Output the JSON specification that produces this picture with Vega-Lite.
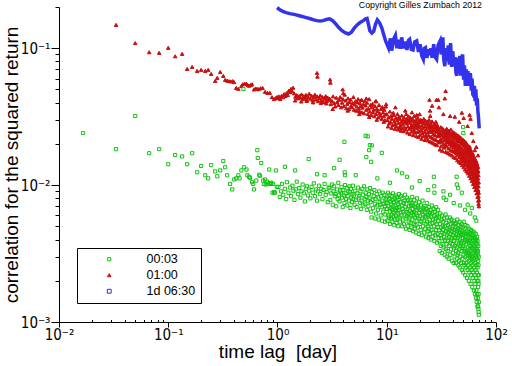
{
"$schema":"https://vega.github.io/schema/vega-lite/v6.json",
"autosize":{"type":"none"},
"padding":{"left":59,"top":7,"right":16,"bottom":44},
"width":437,"height":315,
"background":"white",
"title":{"text":"Copyright Gilles Zumbach 2012","anchor":"end","orient":"top","frame":"group","offset":-16,"baseline":"alphabetic","dx":-14,"fontSize":8.8,"font":"Liberation Sans","fontWeight":"normal","color":"#000"},
"datasets":{
"pts":[
{"s":"01:00","x":0.0333,"y":0.148},{"s":"01:00","x":0.0498,"y":0.109},{"s":"01:00","x":0.0669,"y":0.0935},{"s":"01:00","x":0.0826,"y":0.0925},{"s":"01:00","x":0.1,"y":0.1006},{"s":"01:00","x":0.1157,"y":0.0873},{"s":"01:00","x":0.134,"y":0.0909},{"s":"01:00","x":0.149,"y":0.0706},{"s":"01:00","x":0.1655,"y":0.073},{"s":"01:00","x":0.184,"y":0.0683},{"s":"01:00","x":0.2,"y":0.0695},{"s":"01:00","x":0.218,"y":0.0683},{"s":"01:00","x":0.232,"y":0.0695},{"s":"01:00","x":0.247,"y":0.0649},{"s":"01:00","x":0.269,"y":0.0577},{"s":"01:00","x":0.281,"y":0.0607},{"s":"01:00","x":0.299,"y":0.067},{"s":"01:00","x":0.319,"y":0.0628},{"s":"01:00","x":0.332,"y":0.0587},{"s":"01:00","x":0.346,"y":0.058},{"s":"01:00","x":0.36,"y":0.0575},{"s":"01:00","x":0.374,"y":0.0572},{"s":"01:00","x":0.389,"y":0.0575},{"s":"01:00","x":0.4,"y":0.0565},{"s":"01:00","x":0.419,"y":0.0513},{"s":"01:00","x":0.438,"y":0.0505},{"s":"01:00","x":0.467,"y":0.053},{"s":"01:00","x":0.48,"y":0.0545},{"s":"01:00","x":0.5,"y":0.0552},{"s":"01:00","x":0.52,"y":0.055},{"s":"01:00","x":0.535,"y":0.0538},{"s":"01:00","x":0.55,"y":0.0532},{"s":"01:00","x":0.57,"y":0.054},{"s":"01:00","x":0.585,"y":0.0545},{"s":"01:00","x":0.61,"y":0.05},{"s":"01:00","x":0.63,"y":0.0508},{"s":"01:00","x":0.65,"y":0.0505},{"s":"01:00","x":0.67,"y":0.0502},{"s":"01:00","x":0.7,"y":0.051},{"s":"01:00","x":0.73,"y":0.0513},{"s":"01:00","x":0.77,"y":0.048},{"s":"01:00","x":0.81,"y":0.0472},{"s":"01:00","x":0.85,"y":0.0472},{"s":"01:00","x":0.89,"y":0.0439},{"s":"01:00","x":0.93,"y":0.0425},{"s":"01:00","x":0.96,"y":0.0432},{"s":"01:00","x":0.99,"y":0.044},
{"s":"01:00","x":1.0,"y":0.0432},{"s":"01:00","x":1.03,"y":0.0445},{"s":"01:00","x":1.06,"y":0.0425},{"s":"01:00","x":1.09,"y":0.045},{"s":"01:00","x":1.12,"y":0.0438},{"s":"01:00","x":1.15,"y":0.0462},{"s":"01:00","x":1.18,"y":0.0447},{"s":"01:00","x":1.21,"y":0.047},{"s":"01:00","x":1.24,"y":0.0455},{"s":"01:00","x":1.27,"y":0.049},{"s":"01:00","x":1.3,"y":0.0478},{"s":"01:00","x":1.33,"y":0.0505},{"s":"01:00","x":1.36,"y":0.0485},{"s":"01:00","x":1.39,"y":0.0515},{"s":"01:00","x":1.42,"y":0.0468},{"s":"01:00","x":1.46,"y":0.0442},{"s":"01:00","x":1.5,"y":0.0455},{"s":"01:00","x":1.54,"y":0.043},{"s":"01:00","x":1.58,"y":0.0448},{"s":"01:00","x":1.62,"y":0.0436},{"s":"01:00","x":1.66,"y":0.046},{"s":"01:00","x":1.7,"y":0.0425},{"s":"01:00","x":1.74,"y":0.0447},{"s":"01:00","x":1.78,"y":0.0432},{"s":"01:00","x":1.82,"y":0.0456},{"s":"01:00","x":1.86,"y":0.042},{"s":"01:00","x":1.9,"y":0.0441},{"s":"01:00","x":1.95,"y":0.0465},{"s":"01:00","x":2.0,"y":0.0428},{"s":"01:00","x":2.05,"y":0.045},{"s":"01:00","x":2.1,"y":0.0415},{"s":"01:00","x":2.15,"y":0.0437},{"s":"01:00","x":2.2,"y":0.0458},{"s":"01:00","x":2.25,"y":0.0422},{"s":"01:00","x":2.3,"y":0.0445},{"s":"01:00","x":2.35,"y":0.041},{"s":"01:00","x":2.4,"y":0.0432},{"s":"01:00","x":2.46,"y":0.0452},{"s":"01:00","x":2.52,"y":0.0418},{"s":"01:00","x":2.58,"y":0.044},{"s":"01:00","x":2.64,"y":0.0405},{"s":"01:00","x":2.7,"y":0.0428},{"s":"01:00","x":2.76,"y":0.0447},{"s":"01:00","x":2.82,"y":0.0412},{"s":"01:00","x":2.88,"y":0.0436},{"s":"01:00","x":2.94,"y":0.042},{"s":"01:00","x":1.45,"y":0.0415},{"s":"01:00","x":1.65,"y":0.0408},{"s":"01:00","x":1.85,"y":0.0412},{"s":"01:00","x":2.12,"y":0.0402},{"s":"01:00","x":2.5,"y":0.0398},{"s":"01:00","x":2.8,"y":0.0395},
{"s":"01:00","x":3.0,"y":0.0428},{"s":"01:00","x":3.07,"y":0.039},{"s":"01:00","x":3.15,"y":0.0412},{"s":"01:00","x":3.22,"y":0.0445},{"s":"01:00","x":3.3,"y":0.0398},{"s":"01:00","x":3.37,"y":0.0375},{"s":"01:00","x":3.45,"y":0.0435},{"s":"01:00","x":3.52,"y":0.0405},{"s":"01:00","x":3.6,"y":0.0385},{"s":"01:00","x":3.67,"y":0.042},{"s":"01:00","x":3.75,"y":0.044},{"s":"01:00","x":3.82,"y":0.037},{"s":"01:00","x":3.9,"y":0.04},{"s":"01:00","x":3.97,"y":0.0425},{"s":"01:00","x":4.05,"y":0.0378},{"s":"01:00","x":4.12,"y":0.0458},{"s":"01:00","x":4.2,"y":0.0415},{"s":"01:00","x":4.27,"y":0.0365},{"s":"01:00","x":4.35,"y":0.0392},{"s":"01:00","x":4.42,"y":0.043},{"s":"01:00","x":4.5,"y":0.036},{"s":"01:00","x":4.57,"y":0.0405},{"s":"01:00","x":4.65,"y":0.0422},{"s":"01:00","x":4.72,"y":0.038},{"s":"01:00","x":4.8,"y":0.037},{"s":"01:00","x":4.87,"y":0.0398},{"s":"01:00","x":4.95,"y":0.044},{"s":"01:00","x":5.02,"y":0.0355},{"s":"01:00","x":5.1,"y":0.0388},{"s":"01:00","x":5.17,"y":0.041},{"s":"01:00","x":5.25,"y":0.035},{"s":"01:00","x":5.32,"y":0.0375},{"s":"01:00","x":5.4,"y":0.0402},{"s":"01:00","x":5.47,"y":0.0425},{"s":"01:00","x":5.55,"y":0.0362},{"s":"01:00","x":5.62,"y":0.0345},{"s":"01:00","x":5.7,"y":0.0395},{"s":"01:00","x":5.77,"y":0.0378},{"s":"01:00","x":5.85,"y":0.0418},{"s":"01:00","x":5.92,"y":0.034},{"s":"01:00","x":6.0,"y":0.0368},{"s":"01:00","x":6.1,"y":0.039},{"s":"01:00","x":6.2,"y":0.0335},{"s":"01:00","x":6.3,"y":0.041},{"s":"01:00","x":6.4,"y":0.0382},{"s":"01:00","x":6.5,"y":0.0355},{"s":"01:00","x":6.6,"y":0.04},{"s":"01:00","x":6.7,"y":0.033},{"s":"01:00","x":6.8,"y":0.0362},{"s":"01:00","x":6.9,"y":0.0425},{"s":"01:00","x":7.0,"y":0.0345},{"s":"01:00","x":7.1,"y":0.0385},{"s":"01:00","x":7.2,"y":0.0325},{"s":"01:00","x":7.3,"y":0.037},{"s":"01:00","x":7.4,"y":0.0392},{"s":"01:00","x":7.5,"y":0.034},{"s":"01:00","x":7.6,"y":0.0355},{"s":"01:00","x":7.7,"y":0.0318},{"s":"01:00","x":7.8,"y":0.0378},{"s":"01:00","x":7.9,"y":0.041},{"s":"01:00","x":8.0,"y":0.033},{"s":"01:00","x":8.12,"y":0.0362},{"s":"01:00","x":8.25,"y":0.0348},{"s":"01:00","x":8.37,"y":0.0312},{"s":"01:00","x":8.5,"y":0.0385},{"s":"01:00","x":8.62,"y":0.0335},{"s":"01:00","x":8.75,"y":0.0322},{"s":"01:00","x":8.87,"y":0.036},{"s":"01:00","x":9.0,"y":0.0305},{"s":"01:00","x":9.12,"y":0.0372},{"s":"01:00","x":9.25,"y":0.034},{"s":"01:00","x":9.37,"y":0.0318},{"s":"01:00","x":9.5,"y":0.0355},{"s":"01:00","x":9.62,"y":0.0298},{"s":"01:00","x":9.75,"y":0.0328},{"s":"01:00","x":9.87,"y":0.039},{"s":"01:00","x":3.2,"y":0.036},{"s":"01:00","x":4.4,"y":0.035},{"s":"01:00","x":5.6,"y":0.033},{"s":"01:00","x":6.9,"y":0.0315},{"s":"01:00","x":8.1,"y":0.03},{"s":"01:00","x":9.4,"y":0.029},
{"s":"01:00","x":10.0,"y":0.033},{"s":"01:00","x":10.13,"y":0.0298},{"s":"01:00","x":10.27,"y":0.0268},{"s":"01:00","x":10.4,"y":0.0312},{"s":"01:00","x":10.53,"y":0.0282},{"s":"01:00","x":10.67,"y":0.0345},{"s":"01:00","x":10.8,"y":0.029},{"s":"01:00","x":10.93,"y":0.032},{"s":"01:00","x":11.07,"y":0.0262},{"s":"01:00","x":11.2,"y":0.0305},{"s":"01:00","x":11.33,"y":0.0275},{"s":"01:00","x":11.47,"y":0.0338},{"s":"01:00","x":11.6,"y":0.0325},{"s":"01:00","x":11.73,"y":0.0292},{"s":"01:00","x":11.87,"y":0.0258},{"s":"01:00","x":12.0,"y":0.028},{"s":"01:00","x":12.13,"y":0.031},{"s":"01:00","x":12.27,"y":0.0268},{"s":"01:00","x":12.4,"y":0.0298},{"s":"01:00","x":12.53,"y":0.033},{"s":"01:00","x":12.67,"y":0.0255},{"s":"01:00","x":12.8,"y":0.0285},{"s":"01:00","x":12.93,"y":0.0315},{"s":"01:00","x":13.07,"y":0.0263},{"s":"01:00","x":13.2,"y":0.0305},{"s":"01:00","x":13.33,"y":0.0272},{"s":"01:00","x":13.47,"y":0.025},{"s":"01:00","x":13.6,"y":0.029},{"s":"01:00","x":13.73,"y":0.0322},{"s":"01:00","x":13.87,"y":0.026},{"s":"01:00","x":14.0,"y":0.0278},{"s":"01:00","x":14.13,"y":0.03},{"s":"01:00","x":14.27,"y":0.0248},{"s":"01:00","x":14.4,"y":0.0312},{"s":"01:00","x":14.53,"y":0.0265},{"s":"01:00","x":14.67,"y":0.0288},{"s":"01:00","x":14.8,"y":0.0295},{"s":"01:00","x":14.93,"y":0.0255},{"s":"01:00","x":15.07,"y":0.033},{"s":"01:00","x":15.2,"y":0.0282},{"s":"01:00","x":15.33,"y":0.0305},{"s":"01:00","x":15.47,"y":0.0242},{"s":"01:00","x":15.6,"y":0.0268},{"s":"01:00","x":15.73,"y":0.0292},{"s":"01:00","x":15.87,"y":0.0318},{"s":"01:00","x":16.0,"y":0.03},{"s":"01:00","x":16.13,"y":0.0258},{"s":"01:00","x":16.27,"y":0.0236},{"s":"01:00","x":16.4,"y":0.0285},{"s":"01:00","x":16.53,"y":0.031},{"s":"01:00","x":16.67,"y":0.0262},{"s":"01:00","x":16.8,"y":0.0272},{"s":"01:00","x":16.93,"y":0.0246},{"s":"01:00","x":17.07,"y":0.0296},{"s":"01:00","x":17.2,"y":0.0305},{"s":"01:00","x":17.33,"y":0.0265},{"s":"01:00","x":17.47,"y":0.0232},{"s":"01:00","x":17.6,"y":0.028},{"s":"01:00","x":17.73,"y":0.0252},{"s":"01:00","x":17.87,"y":0.032},{"s":"01:00","x":18.0,"y":0.0292},{"s":"01:00","x":18.13,"y":0.0242},{"s":"01:00","x":18.27,"y":0.0268},{"s":"01:00","x":18.4,"y":0.0275},{"s":"01:00","x":18.53,"y":0.03},{"s":"01:00","x":18.67,"y":0.0228},{"s":"01:00","x":18.8,"y":0.026},{"s":"01:00","x":18.93,"y":0.0285},{"s":"01:00","x":19.07,"y":0.0244},{"s":"01:00","x":19.2,"y":0.031},{"s":"01:00","x":19.33,"y":0.027},{"s":"01:00","x":19.47,"y":0.0225},{"s":"01:00","x":19.6,"y":0.0278},{"s":"01:00","x":19.73,"y":0.0248},{"s":"01:00","x":19.87,"y":0.0295},{"s":"01:00","x":20.0,"y":0.0265},{"s":"01:00","x":20.17,"y":0.0232},{"s":"01:00","x":20.33,"y":0.0288},{"s":"01:00","x":20.5,"y":0.03},{"s":"01:00","x":20.67,"y":0.0252},{"s":"01:00","x":20.83,"y":0.0218},{"s":"01:00","x":21.0,"y":0.0272},{"s":"01:00","x":21.17,"y":0.024},{"s":"01:00","x":21.33,"y":0.029},{"s":"01:00","x":21.5,"y":0.026},{"s":"01:00","x":21.67,"y":0.0228},{"s":"01:00","x":21.83,"y":0.0305},{"s":"01:00","x":22.0,"y":0.0282},{"s":"01:00","x":22.17,"y":0.0245},{"s":"01:00","x":22.33,"y":0.0214},{"s":"01:00","x":22.5,"y":0.0268},{"s":"01:00","x":22.67,"y":0.0295},{"s":"01:00","x":22.83,"y":0.0232},{"s":"01:00","x":23.0,"y":0.0255},{"s":"01:00","x":23.17,"y":0.0222},{"s":"01:00","x":23.33,"y":0.0278},{"s":"01:00","x":23.5,"y":0.029},{"s":"01:00","x":23.67,"y":0.0242},{"s":"01:00","x":23.83,"y":0.0212},{"s":"01:00","x":24.0,"y":0.0265},{"s":"01:00","x":24.17,"y":0.023},{"s":"01:00","x":24.33,"y":0.03},{"s":"01:00","x":24.5,"y":0.0275},{"s":"01:00","x":24.67,"y":0.0248},{"s":"01:00","x":24.83,"y":0.0208},{"s":"01:00","x":25.0,"y":0.026},{"s":"01:00","x":25.17,"y":0.0285},{"s":"01:00","x":25.33,"y":0.0225},{"s":"01:00","x":25.5,"y":0.0245},{"s":"01:00","x":25.67,"y":0.027},{"s":"01:00","x":25.83,"y":0.0205},{"s":"01:00","x":26.0,"y":0.0292},{"s":"01:00","x":26.17,"y":0.0252},{"s":"01:00","x":26.33,"y":0.022},{"s":"01:00","x":26.5,"y":0.0265},{"s":"01:00","x":26.67,"y":0.0236},{"s":"01:00","x":26.83,"y":0.0202},{"s":"01:00","x":27.0,"y":0.025},{"s":"01:00","x":27.17,"y":0.028},{"s":"01:00","x":27.33,"y":0.0216},{"s":"01:00","x":27.5,"y":0.027},{"s":"01:00","x":27.67,"y":0.0232},{"s":"01:00","x":27.83,"y":0.0198},{"s":"01:00","x":28.0,"y":0.0258},{"s":"01:00","x":28.17,"y":0.029},{"s":"01:00","x":28.33,"y":0.0214},{"s":"01:00","x":28.5,"y":0.0245},{"s":"01:00","x":28.67,"y":0.0268},{"s":"01:00","x":28.83,"y":0.0196},{"s":"01:00","x":29.0,"y":0.0275},{"s":"01:00","x":29.17,"y":0.0228},{"s":"01:00","x":29.33,"y":0.025},{"s":"01:00","x":29.5,"y":0.026},{"s":"01:00","x":29.67,"y":0.0208},{"s":"01:00","x":29.83,"y":0.0236},
{"s":"01:00","x":30.0,"y":0.0255},{"s":"01:00","x":30.2,"y":0.0228},{"s":"01:00","x":30.4,"y":0.0205},{"s":"01:00","x":30.6,"y":0.0182},{"s":"01:00","x":30.8,"y":0.024},{"s":"01:00","x":31.0,"y":0.0215},{"s":"01:00","x":31.2,"y":0.0265},{"s":"01:00","x":31.4,"y":0.0192},{"s":"01:00","x":31.6,"y":0.0232},{"s":"01:00","x":31.8,"y":0.0208},{"s":"01:00","x":32.0,"y":0.025},{"s":"01:00","x":32.2,"y":0.0178},{"s":"01:00","x":32.4,"y":0.026},{"s":"01:00","x":32.6,"y":0.0222},{"s":"01:00","x":32.8,"y":0.0198},{"s":"01:00","x":33.0,"y":0.024},{"s":"01:00","x":33.2,"y":0.0245},{"s":"01:00","x":33.4,"y":0.0212},{"s":"01:00","x":33.6,"y":0.0188},{"s":"01:00","x":33.8,"y":0.023},{"s":"01:00","x":34.0,"y":0.0228},{"s":"01:00","x":34.2,"y":0.0252},{"s":"01:00","x":34.4,"y":0.02},{"s":"01:00","x":34.6,"y":0.0175},{"s":"01:00","x":34.8,"y":0.0238},{"s":"01:00","x":35.0,"y":0.0215},{"s":"01:00","x":35.2,"y":0.0192},{"s":"01:00","x":35.4,"y":0.0258},{"s":"01:00","x":35.6,"y":0.0225},{"s":"01:00","x":35.8,"y":0.0205},{"s":"01:00","x":36.0,"y":0.0245},{"s":"01:00","x":36.2,"y":0.0172},{"s":"01:00","x":36.4,"y":0.0235},{"s":"01:00","x":36.6,"y":0.021},{"s":"01:00","x":36.8,"y":0.0185},{"s":"01:00","x":37.0,"y":0.025},{"s":"01:00","x":37.2,"y":0.022},{"s":"01:00","x":37.4,"y":0.0242},{"s":"01:00","x":37.6,"y":0.0198},{"s":"01:00","x":37.8,"y":0.0168},{"s":"01:00","x":38.0,"y":0.0232},{"s":"01:00","x":38.2,"y":0.0205},{"s":"01:00","x":38.4,"y":0.018},{"s":"01:00","x":38.6,"y":0.0255},{"s":"01:00","x":38.8,"y":0.0215},{"s":"01:00","x":39.0,"y":0.0238},{"s":"01:00","x":39.2,"y":0.0192},{"s":"01:00","x":39.4,"y":0.0165},{"s":"01:00","x":39.6,"y":0.0228},{"s":"01:00","x":39.8,"y":0.02},{"s":"01:00","x":40.0,"y":0.0178},{"s":"01:00","x":40.2,"y":0.0245},{"s":"01:00","x":40.4,"y":0.021},{"s":"01:00","x":40.6,"y":0.0232},{"s":"01:00","x":40.8,"y":0.0188},{"s":"01:00","x":41.0,"y":0.016},{"s":"01:00","x":41.2,"y":0.0222},{"s":"01:00","x":41.4,"y":0.0195},{"s":"01:00","x":41.6,"y":0.0175},{"s":"01:00","x":41.8,"y":0.024},{"s":"01:00","x":42.0,"y":0.0205},{"s":"01:00","x":42.2,"y":0.0228},{"s":"01:00","x":42.4,"y":0.0182},{"s":"01:00","x":42.6,"y":0.0158},{"s":"01:00","x":42.8,"y":0.0218},{"s":"01:00","x":43.0,"y":0.019},{"s":"01:00","x":43.2,"y":0.017},{"s":"01:00","x":43.4,"y":0.0235},{"s":"01:00","x":43.6,"y":0.02},{"s":"01:00","x":43.8,"y":0.0222},{"s":"01:00","x":44.0,"y":0.0178},{"s":"01:00","x":44.2,"y":0.0152},{"s":"01:00","x":44.4,"y":0.0212},{"s":"01:00","x":44.6,"y":0.0186},{"s":"01:00","x":44.8,"y":0.0165},{"s":"01:00","x":45.0,"y":0.023},{"s":"01:00","x":45.2,"y":0.0195},{"s":"01:00","x":45.4,"y":0.0218},{"s":"01:00","x":45.6,"y":0.0172},{"s":"01:00","x":45.8,"y":0.0148},{"s":"01:00","x":46.0,"y":0.0208},{"s":"01:00","x":46.2,"y":0.018},{"s":"01:00","x":46.4,"y":0.016},{"s":"01:00","x":46.6,"y":0.0225},{"s":"01:00","x":46.8,"y":0.019},{"s":"01:00","x":47.0,"y":0.0212},{"s":"01:00","x":47.2,"y":0.0168},{"s":"01:00","x":47.4,"y":0.0145},{"s":"01:00","x":47.6,"y":0.0202},{"s":"01:00","x":47.8,"y":0.0175},{"s":"01:00","x":48.0,"y":0.0155},{"s":"01:00","x":48.2,"y":0.022},{"s":"01:00","x":48.4,"y":0.0185},{"s":"01:00","x":48.6,"y":0.0208},{"s":"01:00","x":48.8,"y":0.0162},{"s":"01:00","x":49.0,"y":0.014},{"s":"01:00","x":49.2,"y":0.0198},{"s":"01:00","x":49.4,"y":0.017},{"s":"01:00","x":49.6,"y":0.015},{"s":"01:00","x":49.8,"y":0.0215},{"s":"01:00","x":50.0,"y":0.018},{"s":"01:00","x":50.2,"y":0.0202},{"s":"01:00","x":50.4,"y":0.0158},{"s":"01:00","x":50.6,"y":0.0135},{"s":"01:00","x":50.8,"y":0.0192},{"s":"01:00","x":51.0,"y":0.0165},{"s":"01:00","x":51.2,"y":0.0145},{"s":"01:00","x":51.4,"y":0.021},{"s":"01:00","x":51.6,"y":0.0175},{"s":"01:00","x":51.8,"y":0.0196},{"s":"01:00","x":52.0,"y":0.0152},{"s":"01:00","x":52.2,"y":0.013},{"s":"01:00","x":52.4,"y":0.0186},{"s":"01:00","x":52.6,"y":0.016},{"s":"01:00","x":52.8,"y":0.014},{"s":"01:00","x":53.0,"y":0.0205},{"s":"01:00","x":53.2,"y":0.017},{"s":"01:00","x":53.4,"y":0.019},{"s":"01:00","x":53.6,"y":0.0148},{"s":"01:00","x":53.8,"y":0.0126},{"s":"01:00","x":54.0,"y":0.018},{"s":"01:00","x":54.2,"y":0.0155},{"s":"01:00","x":54.4,"y":0.0135},{"s":"01:00","x":54.6,"y":0.0198},{"s":"01:00","x":54.8,"y":0.0165},{"s":"01:00","x":55.0,"y":0.0184},{"s":"01:00","x":55.2,"y":0.0142},{"s":"01:00","x":55.4,"y":0.0122},{"s":"01:00","x":55.6,"y":0.0174},{"s":"01:00","x":55.8,"y":0.015},{"s":"01:00","x":56.0,"y":0.013},{"s":"01:00","x":56.2,"y":0.0192},{"s":"01:00","x":56.4,"y":0.016},{"s":"01:00","x":56.6,"y":0.0178},{"s":"01:00","x":56.8,"y":0.0137},{"s":"01:00","x":57.0,"y":0.0117},{"s":"01:00","x":57.2,"y":0.0168},{"s":"01:00","x":57.4,"y":0.0145},{"s":"01:00","x":57.6,"y":0.0125},{"s":"01:00","x":57.8,"y":0.0185},{"s":"01:00","x":58.0,"y":0.0154},{"s":"01:00","x":58.2,"y":0.0172},{"s":"01:00","x":58.4,"y":0.0132},{"s":"01:00","x":58.6,"y":0.0112},{"s":"01:00","x":58.8,"y":0.0162},{"s":"01:00","x":59.0,"y":0.014},{"s":"01:00","x":59.2,"y":0.012},{"s":"01:00","x":59.4,"y":0.0178},{"s":"01:00","x":59.6,"y":0.0148},{"s":"01:00","x":59.8,"y":0.0166},{"s":"01:00","x":60.0,"y":0.0126},{"s":"01:00","x":60.2,"y":0.0107},{"s":"01:00","x":60.4,"y":0.0156},{"s":"01:00","x":60.6,"y":0.0134},{"s":"01:00","x":60.8,"y":0.0114},{"s":"01:00","x":61.0,"y":0.017},{"s":"01:00","x":61.2,"y":0.0142},{"s":"01:00","x":61.4,"y":0.016},{"s":"01:00","x":61.6,"y":0.012},{"s":"01:00","x":61.8,"y":0.0102},{"s":"01:00","x":62.0,"y":0.015},{"s":"01:00","x":62.2,"y":0.0128},{"s":"01:00","x":62.4,"y":0.0109},{"s":"01:00","x":62.6,"y":0.0163},{"s":"01:00","x":62.8,"y":0.0136},{"s":"01:00","x":63.0,"y":0.0153},{"s":"01:00","x":63.2,"y":0.0115},{"s":"01:00","x":63.4,"y":0.0097},{"s":"01:00","x":63.6,"y":0.0144},{"s":"01:00","x":63.8,"y":0.0122},{"s":"01:00","x":64.0,"y":0.0104},{"s":"01:00","x":64.2,"y":0.0156},{"s":"01:00","x":64.4,"y":0.013},{"s":"01:00","x":64.6,"y":0.0147},{"s":"01:00","x":64.8,"y":0.011},{"s":"01:00","x":65.0,"y":0.0092},{"s":"01:00","x":65.2,"y":0.0138},{"s":"01:00","x":65.4,"y":0.0116},{"s":"01:00","x":65.6,"y":0.0099},{"s":"01:00","x":65.8,"y":0.015},{"s":"01:00","x":66.0,"y":0.0124},{"s":"01:00","x":66.17,"y":0.014},{"s":"01:00","x":66.35,"y":0.0104},{"s":"01:00","x":66.52,"y":0.0087},{"s":"01:00","x":66.7,"y":0.0132},{"s":"01:00","x":66.87,"y":0.011},{"s":"01:00","x":67.05,"y":0.0093},{"s":"01:00","x":67.22,"y":0.0143},{"s":"01:00","x":67.4,"y":0.0118},{"s":"01:00","x":67.55,"y":0.0134},{"s":"01:00","x":67.7,"y":0.0098},{"s":"01:00","x":67.85,"y":0.0082},{"s":"01:00","x":68.0,"y":0.0125},{"s":"01:00","x":68.12,"y":0.0104},{"s":"01:00","x":68.25,"y":0.0088},{"s":"01:00","x":68.37,"y":0.0136},{"s":"01:00","x":68.5,"y":0.0112},{"s":"01:00","x":68.62,"y":0.0127},{"s":"01:00","x":68.75,"y":0.0092},{"s":"01:00","x":68.87,"y":0.0077},{"s":"01:00","x":69.0,"y":0.0118},{"s":"01:00","x":69.1,"y":0.0098},{"s":"01:00","x":69.2,"y":0.0083},{"s":"01:00","x":69.3,"y":0.0073},{"s":"01:00","x":69.4,"y":0.0105},{"s":"01:00","x":69.5,"y":0.0088},{"s":"01:00","x":69.6,"y":0.0078},{"s":"01:00","x":69.7,"y":0.007},
{"s":"01:00","x":2.3,"y":0.066},{"s":"01:00","x":2.32,"y":0.062},{"s":"01:00","x":3.03,"y":0.059},{"s":"01:00","x":3.05,"y":0.056},{"s":"01:00","x":3.95,"y":0.05},{"s":"01:00","x":4.0,"y":0.047},{"s":"01:00","x":5.9,"y":0.042},{"s":"01:00","x":6.5,"y":0.043},{"s":"01:00","x":8.0,"y":0.041},{"s":"01:00","x":9.8,"y":0.0375},{"s":"01:00","x":12.0,"y":0.037},{"s":"01:00","x":14.8,"y":0.035},{"s":"01:00","x":17.0,"y":0.034},{"s":"01:00","x":18.8,"y":0.0326},{"s":"01:00","x":20.0,"y":0.033},{"s":"01:00","x":24.6,"y":0.042},{"s":"01:00","x":24.9,"y":0.035},{"s":"01:00","x":25.0,"y":0.032},{"s":"01:00","x":26.0,"y":0.038},{"s":"01:00","x":28.5,"y":0.042},{"s":"01:00","x":29.6,"y":0.042},{"s":"01:00","x":30.0,"y":0.037},{"s":"01:00","x":33.0,"y":0.033},{"s":"01:00","x":34.0,"y":0.043},{"s":"01:00","x":34.6,"y":0.0486},{"s":"01:00","x":38.0,"y":0.032},{"s":"01:00","x":42.0,"y":0.0316},{"s":"01:00","x":46.0,"y":0.029},{"s":"01:00","x":48.7,"y":0.0338},{"s":"01:00","x":50.6,"y":0.0309},{"s":"01:00","x":55.0,"y":0.027},{"s":"01:00","x":57.3,"y":0.0326},{"s":"01:00","x":57.4,"y":0.0191},{"s":"01:00","x":58.5,"y":0.0305},{"s":"01:00","x":60.0,"y":0.024},{"s":"01:00","x":62.0,"y":0.021},{"s":"01:00","x":64.0,"y":0.018},{"s":"01:00","x":66.0,"y":0.019},{"s":"01:00","x":68.5,"y":0.0165},
{"s":"00:03","x":0.0166,"y":0.024},{"s":"00:03","x":0.0333,"y":0.0183},{"s":"00:03","x":0.0498,"y":0.032},{"s":"00:03","x":0.0669,"y":0.0171},{"s":"00:03","x":0.0826,"y":0.0183},{"s":"00:03","x":0.1,"y":0.0142},{"s":"00:03","x":0.1157,"y":0.0166},{"s":"00:03","x":0.134,"y":0.0162},{"s":"00:03","x":0.149,"y":0.0142},{"s":"00:03","x":0.1655,"y":0.0171},{"s":"00:03","x":0.184,"y":0.0124},{"s":"00:03","x":0.2,"y":0.0138},{"s":"00:03","x":0.218,"y":0.0118},{"s":"00:03","x":0.232,"y":0.0112},{"s":"00:03","x":0.247,"y":0.014},{"s":"00:03","x":0.269,"y":0.0126},{"s":"00:03","x":0.281,"y":0.0116},{"s":"00:03","x":0.299,"y":0.0128},{"s":"00:03","x":0.319,"y":0.015},{"s":"00:03","x":0.332,"y":0.0135},{"s":"00:03","x":0.346,"y":0.0118},{"s":"00:03","x":0.368,"y":0.0102},{"s":"00:03","x":0.385,"y":0.0093},{"s":"00:03","x":0.402,"y":0.011},{"s":"00:03","x":0.419,"y":0.0112},{"s":"00:03","x":0.438,"y":0.0118},{"s":"00:03","x":0.45,"y":0.0112},{"s":"00:03","x":0.467,"y":0.0128},{"s":"00:03","x":0.488,"y":0.0504},{"s":"00:03","x":0.495,"y":0.0135},{"s":"00:03","x":0.52,"y":0.013},{"s":"00:03","x":0.53,"y":0.0118},{"s":"00:03","x":0.55,"y":0.0115},{"s":"00:03","x":0.56,"y":0.0113},{"s":"00:03","x":0.585,"y":0.0105},{"s":"00:03","x":0.6,"y":0.0102},{"s":"00:03","x":0.61,"y":0.0093},{"s":"00:03","x":0.64,"y":0.0108},{"s":"00:03","x":0.653,"y":0.018},{"s":"00:03","x":0.66,"y":0.0158},{"s":"00:03","x":0.68,"y":0.0119},{"s":"00:03","x":0.69,"y":0.0117},{"s":"00:03","x":0.71,"y":0.0145},{"s":"00:03","x":0.74,"y":0.0108},{"s":"00:03","x":0.75,"y":0.0102},{"s":"00:03","x":0.77,"y":0.011},{"s":"00:03","x":0.78,"y":0.0101},{"s":"00:03","x":0.8,"y":0.0106},{"s":"00:03","x":0.82,"y":0.0102},{"s":"00:03","x":0.84,"y":0.013},{"s":"00:03","x":0.85,"y":0.0103},{"s":"00:03","x":0.87,"y":0.0102},{"s":"00:03","x":0.88,"y":0.0104},{"s":"00:03","x":0.9,"y":0.0088},{"s":"00:03","x":0.91,"y":0.0102},{"s":"00:03","x":0.93,"y":0.0089},{"s":"00:03","x":0.95,"y":0.0088},{"s":"00:03","x":0.97,"y":0.0128},{"s":"00:03","x":0.985,"y":0.0097},
{"s":"00:03","x":1.02,"y":0.0097},{"s":"00:03","x":1.05,"y":0.0082},{"s":"00:03","x":1.08,"y":0.009},{"s":"00:03","x":1.1,"y":0.0102},{"s":"00:03","x":1.13,"y":0.0085},{"s":"00:03","x":1.17,"y":0.0094},{"s":"00:03","x":1.2,"y":0.0079},{"s":"00:03","x":1.22,"y":0.0105},{"s":"00:03","x":1.26,"y":0.0088},{"s":"00:03","x":1.3,"y":0.0096},{"s":"00:03","x":1.33,"y":0.0083},{"s":"00:03","x":1.37,"y":0.0099},{"s":"00:03","x":1.4,"y":0.0091},{"s":"00:03","x":1.43,"y":0.0078},{"s":"00:03","x":1.47,"y":0.0093},{"s":"00:03","x":1.5,"y":0.0106},{"s":"00:03","x":1.54,"y":0.0086},{"s":"00:03","x":1.58,"y":0.0095},{"s":"00:03","x":1.62,"y":0.0081},{"s":"00:03","x":1.66,"y":0.009},{"s":"00:03","x":1.7,"y":0.0101},{"s":"00:03","x":1.74,"y":0.0087},{"s":"00:03","x":1.78,"y":0.0076},{"s":"00:03","x":1.82,"y":0.0094},{"s":"00:03","x":1.86,"y":0.0098},{"s":"00:03","x":1.9,"y":0.0084},{"s":"00:03","x":1.95,"y":0.0091},{"s":"00:03","x":2.0,"y":0.008},{"s":"00:03","x":2.05,"y":0.0097},{"s":"00:03","x":2.1,"y":0.0088},{"s":"00:03","x":2.15,"y":0.0103},{"s":"00:03","x":2.2,"y":0.0083},{"s":"00:03","x":2.25,"y":0.0093},{"s":"00:03","x":2.3,"y":0.0077},{"s":"00:03","x":2.35,"y":0.009},{"s":"00:03","x":2.4,"y":0.0099},{"s":"00:03","x":2.46,"y":0.0086},{"s":"00:03","x":2.52,"y":0.0094},{"s":"00:03","x":2.58,"y":0.0079},{"s":"00:03","x":2.64,"y":0.0092},{"s":"00:03","x":2.7,"y":0.0102},{"s":"00:03","x":2.76,"y":0.0085},{"s":"00:03","x":2.82,"y":0.0089},{"s":"00:03","x":2.88,"y":0.0075},{"s":"00:03","x":2.94,"y":0.0096},
{"s":"00:03","x":3.0,"y":0.0095},{"s":"00:03","x":3.05,"y":0.0078},{"s":"00:03","x":3.1,"y":0.0087},{"s":"00:03","x":3.15,"y":0.0101},{"s":"00:03","x":3.2,"y":0.0072},{"s":"00:03","x":3.25,"y":0.009},{"s":"00:03","x":3.3,"y":0.0098},{"s":"00:03","x":3.35,"y":0.0083},{"s":"00:03","x":3.4,"y":0.0086},{"s":"00:03","x":3.45,"y":0.007},{"s":"00:03","x":3.5,"y":0.0093},{"s":"00:03","x":3.55,"y":0.0079},{"s":"00:03","x":3.6,"y":0.0104},{"s":"00:03","x":3.65,"y":0.0085},{"s":"00:03","x":3.7,"y":0.0076},{"s":"00:03","x":3.75,"y":0.0091},{"s":"00:03","x":3.8,"y":0.0088},{"s":"00:03","x":3.85,"y":0.0097},{"s":"00:03","x":3.9,"y":0.0081},{"s":"00:03","x":3.95,"y":0.0069},{"s":"00:03","x":4.0,"y":0.0092},{"s":"00:03","x":4.05,"y":0.0084},{"s":"00:03","x":4.1,"y":0.0074},{"s":"00:03","x":4.15,"y":0.01},{"s":"00:03","x":4.2,"y":0.0087},{"s":"00:03","x":4.25,"y":0.0079},{"s":"00:03","x":4.3,"y":0.0095},{"s":"00:03","x":4.35,"y":0.0071},{"s":"00:03","x":4.4,"y":0.0083},{"s":"00:03","x":4.45,"y":0.009},{"s":"00:03","x":4.5,"y":0.0077},{"s":"00:03","x":4.55,"y":0.0098},{"s":"00:03","x":4.6,"y":0.0089},{"s":"00:03","x":4.65,"y":0.0068},{"s":"00:03","x":4.7,"y":0.0094},{"s":"00:03","x":4.75,"y":0.0081},{"s":"00:03","x":4.8,"y":0.0075},{"s":"00:03","x":4.85,"y":0.0086},{"s":"00:03","x":4.9,"y":0.0099},{"s":"00:03","x":4.95,"y":0.0079},{"s":"00:03","x":5.0,"y":0.0084},{"s":"00:03","x":5.07,"y":0.0072},{"s":"00:03","x":5.15,"y":0.0091},{"s":"00:03","x":5.22,"y":0.0078},{"s":"00:03","x":5.3,"y":0.0069},{"s":"00:03","x":5.37,"y":0.0087},{"s":"00:03","x":5.45,"y":0.0096},{"s":"00:03","x":5.52,"y":0.008},{"s":"00:03","x":5.6,"y":0.0083},{"s":"00:03","x":5.67,"y":0.0074},{"s":"00:03","x":5.75,"y":0.009},{"s":"00:03","x":5.82,"y":0.0067},{"s":"00:03","x":5.9,"y":0.0077},{"s":"00:03","x":5.97,"y":0.0094},{"s":"00:03","x":6.05,"y":0.0085},{"s":"00:03","x":6.12,"y":0.0071},{"s":"00:03","x":6.2,"y":0.0098},{"s":"00:03","x":6.27,"y":0.0079},{"s":"00:03","x":6.35,"y":0.0073},{"s":"00:03","x":6.42,"y":0.0088},{"s":"00:03","x":6.5,"y":0.0082},{"s":"00:03","x":6.57,"y":0.0066},{"s":"00:03","x":6.65,"y":0.0093},{"s":"00:03","x":6.72,"y":0.0077},{"s":"00:03","x":6.8,"y":0.007},{"s":"00:03","x":6.87,"y":0.0086},{"s":"00:03","x":6.95,"y":0.008},{"s":"00:03","x":7.02,"y":0.0095},{"s":"00:03","x":7.1,"y":0.0075},{"s":"00:03","x":7.2,"y":0.0064},{"s":"00:03","x":7.3,"y":0.0089},{"s":"00:03","x":7.4,"y":0.0078},{"s":"00:03","x":7.5,"y":0.0068},{"s":"00:03","x":7.6,"y":0.0083},{"s":"00:03","x":7.7,"y":0.0092},{"s":"00:03","x":7.8,"y":0.0073},{"s":"00:03","x":7.9,"y":0.0079},{"s":"00:03","x":8.0,"y":0.0062},{"s":"00:03","x":8.1,"y":0.0086},{"s":"00:03","x":8.2,"y":0.0071},{"s":"00:03","x":8.3,"y":0.0066},{"s":"00:03","x":8.4,"y":0.0081},{"s":"00:03","x":8.5,"y":0.009},{"s":"00:03","x":8.6,"y":0.0075},{"s":"00:03","x":8.7,"y":0.0072},{"s":"00:03","x":8.8,"y":0.006},{"s":"00:03","x":8.9,"y":0.0083},{"s":"00:03","x":9.0,"y":0.0069},{"s":"00:03","x":9.1,"y":0.0077},{"s":"00:03","x":9.2,"y":0.0088},{"s":"00:03","x":9.3,"y":0.0064},{"s":"00:03","x":9.4,"y":0.0073},{"s":"00:03","x":9.5,"y":0.0085},{"s":"00:03","x":9.6,"y":0.007},{"s":"00:03","x":9.7,"y":0.0061},{"s":"00:03","x":9.8,"y":0.0079},{"s":"00:03","x":9.9,"y":0.0074},{"s":"00:03","x":9.95,"y":0.0067},{"s":"00:03","x":7.25,"y":0.0058},{"s":"00:03","x":7.85,"y":0.0057},{"s":"00:03","x":8.45,"y":0.0056},{"s":"00:03","x":9.05,"y":0.0055},{"s":"00:03","x":9.65,"y":0.0054},
{"s":"00:03","x":10.0,"y":0.0081},{"s":"00:03","x":10.07,"y":0.0067},{"s":"00:03","x":10.13,"y":0.0055},{"s":"00:03","x":10.2,"y":0.0074},{"s":"00:03","x":10.27,"y":0.0088},{"s":"00:03","x":10.33,"y":0.006},{"s":"00:03","x":10.4,"y":0.007},{"s":"00:03","x":10.47,"y":0.0058},{"s":"00:03","x":10.53,"y":0.0079},{"s":"00:03","x":10.6,"y":0.0085},{"s":"00:03","x":10.67,"y":0.0064},{"s":"00:03","x":10.73,"y":0.0052},{"s":"00:03","x":10.8,"y":0.0076},{"s":"00:03","x":10.87,"y":0.0068},{"s":"00:03","x":10.93,"y":0.0057},{"s":"00:03","x":11.0,"y":0.0072},{"s":"00:03","x":11.07,"y":0.0083},{"s":"00:03","x":11.13,"y":0.0061},{"s":"00:03","x":11.2,"y":0.0066},{"s":"00:03","x":11.27,"y":0.0054},{"s":"00:03","x":11.33,"y":0.0078},{"s":"00:03","x":11.4,"y":0.0087},{"s":"00:03","x":11.47,"y":0.007},{"s":"00:03","x":11.53,"y":0.0059},{"s":"00:03","x":11.6,"y":0.0063},{"s":"00:03","x":11.67,"y":0.0075},{"s":"00:03","x":11.73,"y":0.0051},{"s":"00:03","x":11.8,"y":0.008},{"s":"00:03","x":11.87,"y":0.0066},{"s":"00:03","x":11.93,"y":0.0056},{"s":"00:03","x":12.0,"y":0.0071},{"s":"00:03","x":12.07,"y":0.0084},{"s":"00:03","x":12.13,"y":0.006},{"s":"00:03","x":12.2,"y":0.0065},{"s":"00:03","x":12.27,"y":0.0053},{"s":"00:03","x":12.33,"y":0.0076},{"s":"00:03","x":12.4,"y":0.0082},{"s":"00:03","x":12.47,"y":0.0068},{"s":"00:03","x":12.53,"y":0.0057},{"s":"00:03","x":12.6,"y":0.0062},{"s":"00:03","x":12.67,"y":0.0073},{"s":"00:03","x":12.73,"y":0.005},{"s":"00:03","x":12.8,"y":0.0078},{"s":"00:03","x":12.87,"y":0.0066},{"s":"00:03","x":12.93,"y":0.0086},{"s":"00:03","x":13.0,"y":0.0069},{"s":"00:03","x":13.1,"y":0.0058},{"s":"00:03","x":13.2,"y":0.0054},{"s":"00:03","x":13.3,"y":0.0075},{"s":"00:03","x":13.4,"y":0.0063},{"s":"00:03","x":13.5,"y":0.0083},{"s":"00:03","x":13.6,"y":0.006},{"s":"00:03","x":13.7,"y":0.0071},{"s":"00:03","x":13.8,"y":0.005},{"s":"00:03","x":13.9,"y":0.008},{"s":"00:03","x":14.0,"y":0.0067},{"s":"00:03","x":14.1,"y":0.0056},{"s":"00:03","x":14.2,"y":0.0064},{"s":"00:03","x":14.3,"y":0.0074},{"s":"00:03","x":14.4,"y":0.0052},{"s":"00:03","x":14.5,"y":0.0077},{"s":"00:03","x":14.6,"y":0.0061},{"s":"00:03","x":14.7,"y":0.0085},{"s":"00:03","x":14.8,"y":0.0069},{"s":"00:03","x":14.9,"y":0.0057},{"s":"00:03","x":15.0,"y":0.0048},{"s":"00:03","x":15.1,"y":0.0073},{"s":"00:03","x":15.2,"y":0.0063},{"s":"00:03","x":15.3,"y":0.0081},{"s":"00:03","x":15.4,"y":0.0059},{"s":"00:03","x":15.5,"y":0.0067},{"s":"00:03","x":15.6,"y":0.005},{"s":"00:03","x":15.7,"y":0.0078},{"s":"00:03","x":15.8,"y":0.0062},{"s":"00:03","x":15.9,"y":0.0054},{"s":"00:03","x":16.0,"y":0.007},{"s":"00:03","x":16.1,"y":0.0058},{"s":"00:03","x":16.2,"y":0.0047},{"s":"00:03","x":16.3,"y":0.0065},{"s":"00:03","x":16.4,"y":0.0076},{"s":"00:03","x":16.5,"y":0.0053},{"s":"00:03","x":16.6,"y":0.006},{"s":"00:03","x":16.7,"y":0.0071},{"s":"00:03","x":16.8,"y":0.0049},{"s":"00:03","x":16.9,"y":0.0074},{"s":"00:03","x":17.0,"y":0.0063},{"s":"00:03","x":17.1,"y":0.0082},{"s":"00:03","x":17.2,"y":0.0056},{"s":"00:03","x":17.3,"y":0.0067},{"s":"00:03","x":17.4,"y":0.0046},{"s":"00:03","x":17.5,"y":0.0071},{"s":"00:03","x":17.6,"y":0.006},{"s":"00:03","x":17.7,"y":0.0052},{"s":"00:03","x":17.8,"y":0.0064},{"s":"00:03","x":17.9,"y":0.0078},{"s":"00:03","x":18.0,"y":0.0048},{"s":"00:03","x":18.1,"y":0.0058},{"s":"00:03","x":18.2,"y":0.0069},{"s":"00:03","x":18.3,"y":0.0051},{"s":"00:03","x":18.4,"y":0.0073},{"s":"00:03","x":18.5,"y":0.0062},{"s":"00:03","x":18.6,"y":0.0045},{"s":"00:03","x":18.7,"y":0.0066},{"s":"00:03","x":18.8,"y":0.0055},{"s":"00:03","x":18.9,"y":0.008},{"s":"00:03","x":19.0,"y":0.006},{"s":"00:03","x":19.13,"y":0.007},{"s":"00:03","x":19.27,"y":0.0049},{"s":"00:03","x":19.4,"y":0.0068},{"s":"00:03","x":19.53,"y":0.0057},{"s":"00:03","x":19.67,"y":0.0044},{"s":"00:03","x":19.8,"y":0.0075},{"s":"00:03","x":19.93,"y":0.0063},{"s":"00:03","x":20.07,"y":0.0052},{"s":"00:03","x":20.2,"y":0.0059},{"s":"00:03","x":20.33,"y":0.0066},{"s":"00:03","x":20.47,"y":0.0047},{"s":"00:03","x":20.6,"y":0.0071},{"s":"00:03","x":20.73,"y":0.0054},{"s":"00:03","x":20.87,"y":0.0043},{"s":"00:03","x":21.0,"y":0.0064},{"s":"00:03","x":21.13,"y":0.0057},{"s":"00:03","x":21.27,"y":0.0077},{"s":"00:03","x":21.4,"y":0.0061},{"s":"00:03","x":21.53,"y":0.005},{"s":"00:03","x":21.67,"y":0.0068},{"s":"00:03","x":21.8,"y":0.0055},{"s":"00:03","x":21.93,"y":0.0066},{"s":"00:03","x":22.07,"y":0.0045},{"s":"00:03","x":22.2,"y":0.007},{"s":"00:03","x":22.33,"y":0.0059},{"s":"00:03","x":22.47,"y":0.0048},{"s":"00:03","x":22.6,"y":0.0063},{"s":"00:03","x":22.73,"y":0.0052},{"s":"00:03","x":22.87,"y":0.0042},{"s":"00:03","x":23.0,"y":0.0058},{"s":"00:03","x":23.13,"y":0.0067},{"s":"00:03","x":23.27,"y":0.0074},{"s":"00:03","x":23.4,"y":0.0054},{"s":"00:03","x":23.53,"y":0.0061},{"s":"00:03","x":23.67,"y":0.0046},{"s":"00:03","x":23.8,"y":0.0065},{"s":"00:03","x":23.93,"y":0.005},{"s":"00:03","x":24.07,"y":0.0041},{"s":"00:03","x":24.2,"y":0.006},{"s":"00:03","x":24.33,"y":0.0069},{"s":"00:03","x":24.47,"y":0.0048},{"s":"00:03","x":24.6,"y":0.0056},{"s":"00:03","x":24.73,"y":0.0044},{"s":"00:03","x":24.87,"y":0.0063},{"s":"00:03","x":25.0,"y":0.0052},{"s":"00:03","x":25.17,"y":0.0066},{"s":"00:03","x":25.33,"y":0.004},{"s":"00:03","x":25.5,"y":0.0059},{"s":"00:03","x":25.67,"y":0.0047},{"s":"00:03","x":25.83,"y":0.0071},{"s":"00:03","x":26.0,"y":0.0062},{"s":"00:03","x":26.17,"y":0.0053},{"s":"00:03","x":26.33,"y":0.0042},{"s":"00:03","x":26.5,"y":0.0056},{"s":"00:03","x":26.67,"y":0.0045},{"s":"00:03","x":26.83,"y":0.0067},{"s":"00:03","x":27.0,"y":0.005},{"s":"00:03","x":27.17,"y":0.006},{"s":"00:03","x":27.33,"y":0.0039},{"s":"00:03","x":27.5,"y":0.0064},{"s":"00:03","x":27.67,"y":0.0054},{"s":"00:03","x":27.83,"y":0.0043},{"s":"00:03","x":28.0,"y":0.0057},{"s":"00:03","x":28.17,"y":0.0047},{"s":"00:03","x":28.33,"y":0.0069},{"s":"00:03","x":28.5,"y":0.0052},{"s":"00:03","x":28.67,"y":0.0061},{"s":"00:03","x":28.83,"y":0.0038},{"s":"00:03","x":29.0,"y":0.0059},{"s":"00:03","x":29.17,"y":0.0044},{"s":"00:03","x":29.33,"y":0.0049},{"s":"00:03","x":29.5,"y":0.0066},{"s":"00:03","x":29.67,"y":0.0055},{"s":"00:03","x":29.83,"y":0.0041},
{"s":"00:03","x":30.0,"y":0.0058},{"s":"00:03","x":30.17,"y":0.0047},{"s":"00:03","x":30.35,"y":0.0039},{"s":"00:03","x":30.52,"y":0.0033},{"s":"00:03","x":30.7,"y":0.0052},{"s":"00:03","x":30.87,"y":0.0062},{"s":"00:03","x":31.05,"y":0.0043},{"s":"00:03","x":31.22,"y":0.0036},{"s":"00:03","x":31.4,"y":0.0049},{"s":"00:03","x":31.57,"y":0.0041},{"s":"00:03","x":31.75,"y":0.0056},{"s":"00:03","x":31.92,"y":0.0032},{"s":"00:03","x":32.1,"y":0.006},{"s":"00:03","x":32.27,"y":0.0045},{"s":"00:03","x":32.45,"y":0.0037},{"s":"00:03","x":32.62,"y":0.005},{"s":"00:03","x":32.8,"y":0.0047},{"s":"00:03","x":32.97,"y":0.0054},{"s":"00:03","x":33.15,"y":0.0035},{"s":"00:03","x":33.32,"y":0.0042},{"s":"00:03","x":33.5,"y":0.0057},{"s":"00:03","x":33.67,"y":0.0044},{"s":"00:03","x":33.85,"y":0.0031},{"s":"00:03","x":34.02,"y":0.0039},{"s":"00:03","x":34.2,"y":0.005},{"s":"00:03","x":34.37,"y":0.004},{"s":"00:03","x":34.55,"y":0.0061},{"s":"00:03","x":34.72,"y":0.0034},{"s":"00:03","x":34.9,"y":0.0046},{"s":"00:03","x":35.07,"y":0.0053},{"s":"00:03","x":35.25,"y":0.0037},{"s":"00:03","x":35.42,"y":0.003},{"s":"00:03","x":35.6,"y":0.0058},{"s":"00:03","x":35.77,"y":0.0043},{"s":"00:03","x":35.95,"y":0.0048},{"s":"00:03","x":36.12,"y":0.0033},{"s":"00:03","x":36.3,"y":0.0051},{"s":"00:03","x":36.47,"y":0.0039},{"s":"00:03","x":36.65,"y":0.0045},{"s":"00:03","x":36.82,"y":0.0029},{"s":"00:03","x":37.0,"y":0.0055},{"s":"00:03","x":37.17,"y":0.0042},{"s":"00:03","x":37.35,"y":0.0036},{"s":"00:03","x":37.52,"y":0.0047},{"s":"00:03","x":37.7,"y":0.0049},{"s":"00:03","x":37.87,"y":0.0058},{"s":"00:03","x":38.05,"y":0.0038},{"s":"00:03","x":38.22,"y":0.0031},{"s":"00:03","x":38.4,"y":0.0044},{"s":"00:03","x":38.57,"y":0.0052},{"s":"00:03","x":38.75,"y":0.0034},{"s":"00:03","x":38.92,"y":0.004},{"s":"00:03","x":39.1,"y":0.0056},{"s":"00:03","x":39.27,"y":0.0041},{"s":"00:03","x":39.45,"y":0.0046},{"s":"00:03","x":39.62,"y":0.0028},{"s":"00:03","x":39.8,"y":0.0048},{"s":"00:03","x":39.97,"y":0.0037},{"s":"00:03","x":40.15,"y":0.0053},{"s":"00:03","x":40.32,"y":0.0032},{"s":"00:03","x":40.5,"y":0.0043},{"s":"00:03","x":40.67,"y":0.005},{"s":"00:03","x":40.85,"y":0.0035},{"s":"00:03","x":41.02,"y":0.0027},{"s":"00:03","x":41.2,"y":0.0055},{"s":"00:03","x":41.37,"y":0.0039},{"s":"00:03","x":41.55,"y":0.0045},{"s":"00:03","x":41.72,"y":0.003},{"s":"00:03","x":41.9,"y":0.0047},{"s":"00:03","x":42.07,"y":0.0036},{"s":"00:03","x":42.25,"y":0.0052},{"s":"00:03","x":42.42,"y":0.0041},{"s":"00:03","x":42.6,"y":0.0042},{"s":"00:03","x":42.77,"y":0.0049},{"s":"00:03","x":42.95,"y":0.0033},{"s":"00:03","x":43.12,"y":0.0027},{"s":"00:03","x":43.3,"y":0.0053},{"s":"00:03","x":43.47,"y":0.0038},{"s":"00:03","x":43.65,"y":0.0044},{"s":"00:03","x":43.82,"y":0.0029},{"s":"00:03","x":44.0,"y":0.0046},{"s":"00:03","x":44.17,"y":0.0035},{"s":"00:03","x":44.35,"y":0.0056},{"s":"00:03","x":44.52,"y":0.0031},{"s":"00:03","x":44.7,"y":0.0041},{"s":"00:03","x":44.87,"y":0.0048},{"s":"00:03","x":45.05,"y":0.0032},{"s":"00:03","x":45.22,"y":0.0026},{"s":"00:03","x":45.4,"y":0.0051},{"s":"00:03","x":45.57,"y":0.0037},{"s":"00:03","x":45.75,"y":0.0043},{"s":"00:03","x":45.92,"y":0.0028},{"s":"00:03","x":46.1,"y":0.0045},{"s":"00:03","x":46.27,"y":0.0034},{"s":"00:03","x":46.45,"y":0.0054},{"s":"00:03","x":46.62,"y":0.0025},{"s":"00:03","x":46.8,"y":0.004},{"s":"00:03","x":46.97,"y":0.0047},{"s":"00:03","x":47.15,"y":0.003},{"s":"00:03","x":47.32,"y":0.0036},{"s":"00:03","x":47.5,"y":0.005},{"s":"00:03","x":47.67,"y":0.0038},{"s":"00:03","x":47.85,"y":0.0027},{"s":"00:03","x":48.02,"y":0.0043},{"s":"00:03","x":48.2,"y":0.0044},{"s":"00:03","x":48.37,"y":0.0033},{"s":"00:03","x":48.55,"y":0.0052},{"s":"00:03","x":48.72,"y":0.0024},{"s":"00:03","x":48.9,"y":0.0039},{"s":"00:03","x":49.07,"y":0.0046},{"s":"00:03","x":49.25,"y":0.0029},{"s":"00:03","x":49.42,"y":0.0035},{"s":"00:03","x":49.6,"y":0.0049},{"s":"00:03","x":49.77,"y":0.0036},{"s":"00:03","x":49.95,"y":0.0041},{"s":"00:03","x":50.12,"y":0.0023},{"s":"00:03","x":50.3,"y":0.0043},{"s":"00:03","x":50.47,"y":0.0031},{"s":"00:03","x":50.65,"y":0.0054},{"s":"00:03","x":50.82,"y":0.0027},{"s":"00:03","x":51.0,"y":0.0038},{"s":"00:03","x":51.17,"y":0.0045},{"s":"00:03","x":51.35,"y":0.0026},{"s":"00:03","x":51.52,"y":0.0033},{"s":"00:03","x":51.7,"y":0.0048},{"s":"00:03","x":51.87,"y":0.0034},{"s":"00:03","x":52.05,"y":0.004},{"s":"00:03","x":52.22,"y":0.0022},{"s":"00:03","x":52.4,"y":0.0042},{"s":"00:03","x":52.57,"y":0.003},{"s":"00:03","x":52.75,"y":0.0051},{"s":"00:03","x":52.92,"y":0.0025},{"s":"00:03","x":53.1,"y":0.0037},{"s":"00:03","x":53.27,"y":0.0044},{"s":"00:03","x":53.45,"y":0.0027},{"s":"00:03","x":53.62,"y":0.0032},{"s":"00:03","x":53.8,"y":0.0046},{"s":"00:03","x":53.97,"y":0.0033},{"s":"00:03","x":54.15,"y":0.0039},{"s":"00:03","x":54.32,"y":0.0021},{"s":"00:03","x":54.5,"y":0.004},{"s":"00:03","x":54.67,"y":0.0029},{"s":"00:03","x":54.85,"y":0.005},{"s":"00:03","x":55.02,"y":0.0024},{"s":"00:03","x":55.2,"y":0.0035},{"s":"00:03","x":55.37,"y":0.0043},{"s":"00:03","x":55.55,"y":0.0026},{"s":"00:03","x":55.72,"y":0.0031},{"s":"00:03","x":55.9,"y":0.0045},{"s":"00:03","x":56.07,"y":0.0032},{"s":"00:03","x":56.25,"y":0.0038},{"s":"00:03","x":56.42,"y":0.002},{"s":"00:03","x":56.6,"y":0.0039},{"s":"00:03","x":56.77,"y":0.0028},{"s":"00:03","x":56.95,"y":0.0048},{"s":"00:03","x":57.12,"y":0.0023},{"s":"00:03","x":57.3,"y":0.0034},{"s":"00:03","x":57.47,"y":0.0042},{"s":"00:03","x":57.65,"y":0.0025},{"s":"00:03","x":57.82,"y":0.003},{"s":"00:03","x":58.0,"y":0.0044},{"s":"00:03","x":58.17,"y":0.0031},{"s":"00:03","x":58.35,"y":0.0036},{"s":"00:03","x":58.52,"y":0.0019},{"s":"00:03","x":58.7,"y":0.0038},{"s":"00:03","x":58.87,"y":0.0027},{"s":"00:03","x":59.05,"y":0.0047},{"s":"00:03","x":59.22,"y":0.0022},{"s":"00:03","x":59.4,"y":0.0033},{"s":"00:03","x":59.57,"y":0.0041},{"s":"00:03","x":59.75,"y":0.0024},{"s":"00:03","x":59.92,"y":0.0029},{"s":"00:03","x":60.1,"y":0.0043},{"s":"00:03","x":60.27,"y":0.003},{"s":"00:03","x":60.45,"y":0.0035},{"s":"00:03","x":60.62,"y":0.0018},{"s":"00:03","x":60.8,"y":0.0037},{"s":"00:03","x":60.97,"y":0.0026},{"s":"00:03","x":61.15,"y":0.0046},{"s":"00:03","x":61.32,"y":0.0021},{"s":"00:03","x":61.5,"y":0.0032},{"s":"00:03","x":61.67,"y":0.004},{"s":"00:03","x":61.85,"y":0.0023},{"s":"00:03","x":62.02,"y":0.0028},{"s":"00:03","x":62.2,"y":0.0042},{"s":"00:03","x":62.37,"y":0.0029},{"s":"00:03","x":62.55,"y":0.0034},{"s":"00:03","x":62.72,"y":0.0017},{"s":"00:03","x":62.9,"y":0.0036},{"s":"00:03","x":63.07,"y":0.0025},{"s":"00:03","x":63.25,"y":0.0045},{"s":"00:03","x":63.42,"y":0.002},{"s":"00:03","x":63.6,"y":0.0031},{"s":"00:03","x":63.77,"y":0.0039},{"s":"00:03","x":63.95,"y":0.0022},{"s":"00:03","x":64.12,"y":0.0016},{"s":"00:03","x":64.3,"y":0.0041},{"s":"00:03","x":64.47,"y":0.0027},{"s":"00:03","x":64.65,"y":0.0033},{"s":"00:03","x":64.82,"y":0.0019},{"s":"00:03","x":65.0,"y":0.0035},{"s":"00:03","x":65.15,"y":0.0024},{"s":"00:03","x":65.3,"y":0.0044},{"s":"00:03","x":65.45,"y":0.0015},{"s":"00:03","x":65.6,"y":0.003},{"s":"00:03","x":65.75,"y":0.0038},{"s":"00:03","x":65.9,"y":0.0021},{"s":"00:03","x":66.05,"y":0.0017},{"s":"00:03","x":66.2,"y":0.004},{"s":"00:03","x":66.35,"y":0.0026},{"s":"00:03","x":66.5,"y":0.0032},{"s":"00:03","x":66.65,"y":0.0014},{"s":"00:03","x":66.8,"y":0.0034},{"s":"00:03","x":66.95,"y":0.0023},{"s":"00:03","x":67.1,"y":0.0042},{"s":"00:03","x":67.25,"y":0.0016},{"s":"00:03","x":67.3,"y":0.0029},{"s":"00:03","x":67.42,"y":0.0037},{"s":"00:03","x":67.55,"y":0.002},{"s":"00:03","x":67.67,"y":0.0013},{"s":"00:03","x":67.8,"y":0.0039},{"s":"00:03","x":67.92,"y":0.0025},{"s":"00:03","x":68.05,"y":0.0031},{"s":"00:03","x":68.17,"y":0.0015},{"s":"00:03","x":68.3,"y":0.0033},{"s":"00:03","x":68.42,"y":0.0022},{"s":"00:03","x":68.55,"y":0.0018},{"s":"00:03","x":68.67,"y":0.0013},{"s":"00:03","x":68.7,"y":0.0028},{"s":"00:03","x":68.8,"y":0.0036},{"s":"00:03","x":68.9,"y":0.002},{"s":"00:03","x":69.0,"y":0.00125},{"s":"00:03","x":69.1,"y":0.0026},{"s":"00:03","x":69.2,"y":0.0019},{"s":"00:03","x":69.3,"y":0.0016},{"s":"00:03","x":69.4,"y":0.00118},{"s":"00:03","x":69.45,"y":0.003},{"s":"00:03","x":69.52,"y":0.0022},{"s":"00:03","x":69.6,"y":0.0014},{"s":"00:03","x":69.66,"y":0.00113},
{"s":"00:03","x":1.17,"y":0.0136},{"s":"00:03","x":1.45,"y":0.0128},{"s":"00:03","x":1.93,"y":0.0155},{"s":"00:03","x":2.3,"y":0.012},{"s":"00:03","x":2.7,"y":0.0118},{"s":"00:03","x":3.3,"y":0.0133},{"s":"00:03","x":3.7,"y":0.0153},{"s":"00:03","x":4.1,"y":0.0207},{"s":"00:03","x":4.12,"y":0.0124},{"s":"00:03","x":4.15,"y":0.0118},{"s":"00:03","x":6.4,"y":0.0229},{"s":"00:03","x":6.7,"y":0.0227},{"s":"00:03","x":7.0,"y":0.0196},{"s":"00:03","x":7.3,"y":0.0195},{"s":"00:03","x":6.9,"y":0.018},{"s":"00:03","x":6.5,"y":0.016},{"s":"00:03","x":7.2,"y":0.0148},{"s":"00:03","x":9.0,"y":0.0172},{"s":"00:03","x":10.7,"y":0.0104},{"s":"00:03","x":12.4,"y":0.0128},{"s":"00:03","x":13.8,"y":0.0122},{"s":"00:03","x":15.3,"y":0.0115},{"s":"00:03","x":20.0,"y":0.0107},{"s":"00:03","x":27.0,"y":0.0115},{"s":"00:03","x":27.2,"y":0.0098},{"s":"00:03","x":27.3,"y":0.0088},{"s":"00:03","x":33.0,"y":0.009},{"s":"00:03","x":33.2,"y":0.0081},{"s":"00:03","x":43.6,"y":0.0115},{"s":"00:03","x":43.8,"y":0.0101},{"s":"00:03","x":48.6,"y":0.0088},{"s":"00:03","x":50.0,"y":0.0265},{"s":"00:03","x":50.2,"y":0.024},{"s":"00:03","x":45.0,"y":0.0095},{"s":"00:03","x":38.0,"y":0.0085},{"s":"00:03","x":55.0,"y":0.0072},{"s":"00:03","x":60.0,"y":0.0068},{"s":"00:03","x":5.2,"y":0.0118},{"s":"00:03","x":8.2,"y":0.0112},{"s":"00:03","x":17.0,"y":0.0096},{"s":"00:03","x":24.0,"y":0.0092},{"s":"00:03","x":35.0,"y":0.0078},{"s":"00:03","x":64.0,"y":0.0058},{"s":"00:03","x":66.0,"y":0.0055},{"s":"00:03","x":58.0,"y":0.0062},{"s":"00:03","x":52.0,"y":0.0066},{"s":"00:03","x":47.0,"y":0.0071},{"s":"00:03","x":41.0,"y":0.0074}
],
"blue":[
{"x":0.99,"y":0.198},{"x":1.05,"y":0.191},{"x":1.13,"y":0.185},{"x":1.2,"y":0.182},{"x":1.3,"y":0.179},{"x":1.45,"y":0.176},{"x":1.62,"y":0.172},{"x":1.8,"y":0.168},{"x":2.0,"y":0.164},{"x":2.15,"y":0.161},{"x":2.3,"y":0.159},{"x":2.45,"y":0.158},{"x":2.6,"y":0.159},{"x":2.8,"y":0.162},{"x":3.0,"y":0.164},{"x":3.2,"y":0.159},{"x":3.35,"y":0.153},{"x":3.6,"y":0.143},{"x":3.87,"y":0.135},{"x":4.15,"y":0.13},{"x":4.47,"y":0.127},{"x":4.75,"y":0.131},{"x":5.0,"y":0.139},{"x":5.35,"y":0.148},{"x":5.7,"y":0.154},{"x":6.1,"y":0.159},{"x":6.4,"y":0.164},{"x":6.6,"y":0.165},{"x":6.8,"y":0.15},{"x":7.0,"y":0.134},{"x":7.3,"y":0.129},{"x":7.6,"y":0.133},{"x":7.9,"y":0.15},{"x":8.2,"y":0.161},{"x":8.6,"y":0.153},{"x":9.0,"y":0.141},{"x":9.4,"y":0.125},{"x":9.8,"y":0.112},{"x":10.4,"y":0.1},{"x":10.8,"y":0.118},{"x":11.1,"y":0.096},{"x":11.6,"y":0.117},{"x":12.0,"y":0.124},{"x":12.4,"y":0.1},{"x":12.9,"y":0.115},{"x":13.3,"y":0.099},{"x":13.7,"y":0.12},{"x":14.2,"y":0.1},{"x":14.8,"y":0.112},{"x":15.3,"y":0.097},{"x":15.8,"y":0.114},{"x":16.2,"y":0.116},{"x":16.8,"y":0.098},{"x":17.4,"y":0.097},{"x":18.0,"y":0.111},{"x":18.8,"y":0.113},{"x":19.5,"y":0.094},{"x":20.2,"y":0.107},{"x":20.9,"y":0.088},{"x":21.6,"y":0.083},{"x":22.1,"y":0.1},{"x":22.6,"y":0.101},{"x":23.3,"y":0.085},{"x":24.0,"y":0.098},{"x":24.7,"y":0.089},{"x":25.3,"y":0.1},{"x":26.0,"y":0.085},{"x":26.9,"y":0.107},{"x":27.7,"y":0.086},{"x":28.6,"y":0.083},{"x":29.5,"y":0.105},{"x":30.8,"y":0.113},{"x":31.5,"y":0.09},{"x":32.6,"y":0.12},{"x":33.3,"y":0.082},{"x":34.0,"y":0.074},{"x":34.8,"y":0.1},{"x":35.6,"y":0.08},{"x":36.5,"y":0.105},{"x":37.4,"y":0.076},{"x":38.4,"y":0.109},{"x":39.3,"y":0.073},{"x":40.2,"y":0.095},{"x":41.2,"y":0.074},{"x":42.2,"y":0.086},{"x":43.0,"y":0.066},{"x":43.8,"y":0.063},{"x":44.7,"y":0.085},{"x":45.6,"y":0.066},{"x":46.5,"y":0.088},{"x":47.5,"y":0.063},{"x":48.5,"y":0.085},{"x":49.5,"y":0.09},{"x":50.5,"y":0.059},{"x":51.4,"y":0.075},{"x":52.4,"y":0.053},{"x":53.4,"y":0.07},{"x":54.4,"y":0.056},{"x":55.4,"y":0.068},{"x":56.4,"y":0.053},{"x":57.4,"y":0.064},{"x":58.4,"y":0.064},{"x":59.4,"y":0.049},{"x":60.4,"y":0.06},{"x":61.4,"y":0.046},{"x":62.4,"y":0.045},{"x":63.4,"y":0.053},{"x":64.4,"y":0.041},{"x":65.4,"y":0.05},{"x":66.4,"y":0.038},{"x":67.4,"y":0.043},{"x":68.2,"y":0.035},{"x":69.0,"y":0.032},{"x":69.6,"y":0.029},{"x":70.2,"y":0.026}
]
},
"layer":[
{"data":{"name":"pts"},
 "mark":{"type":"point","opacity":1,"strokeWidth":1},
 "encoding":{
  "x":{"field":"x","type":"quantitative","scale":{"type":"log","domain":[0.01,100],"nice":false},
       "axis":{"orient":"bottom","values":[0.01,0.1,1,10,100],"tickSize":5,"labelPadding":0,"labelFlush":false,"labelOverlap":false,
               "labelExpr":"datum.value<0.05?'10⁻²':datum.value<0.5?'10⁻¹':datum.value<5?'10⁰':datum.value<50?'10¹':'10²'",
               "title":"time lag \u00a0[day]","titleX":218.5,"titleY":35.5,"titleBaseline":"alphabetic","titleAlign":"center"}},
  "y":{"field":"y","type":"quantitative","scale":{"type":"log","domain":[0.001,0.2],"nice":false},
       "axis":{"orient":"left","values":[0.001,0.01,0.1],"tickSize":8,"labelPadding":1,"labelFlush":false,"labelOverlap":false,
               "labelExpr":"datum.value<0.005?'10⁻³':datum.value<0.05?'10⁻²':'10⁻¹'",
               "title":"correlation for the squared return","titleX":-41.5,"titleY":157.5,"titleBaseline":"alphabetic","titleAlign":"center","titleAngle":-90}},
  "stroke":{"field":"s","type":"nominal","title":"\u00a0","scale":{"domain":["00:03","01:00","1d 06:30"],"range":["#12c412","#c80f0f","#3434c8"]}},
  "fill":{"field":"s","type":"nominal","title":"\u00a0","scale":{"domain":["00:03","01:00","1d 06:30"],"range":["transparent","#c80f0f","transparent"]}},
  "shape":{"field":"s","type":"nominal","title":"\u00a0","scale":{"domain":["00:03","01:00","1d 06:30"],"range":["square","triangle-up","square"]}},
  "size":{"field":"s","type":"nominal","title":"\u00a0","scale":{"domain":["00:03","01:00","1d 06:30"],"range":[10,15,10]}}
 }},
{"data":{"name":"blue"},
 "mark":{"type":"line","stroke":"#3333ee","strokeWidth":3.5,"strokeJoin":"miter","clip":false},
 "encoding":{
  "x":{"field":"x","type":"quantitative","axis":{"orient":"bottom","values":[0.02,0.03,0.04,0.05,0.06,0.07,0.08,0.09,0.2,0.3,0.4,0.5,0.6,0.7,0.8,0.9,2,3,4,5,6,7,8,9,20,30,40,50,60,70,80,90],"labels":false,"domain":false,"tickSize":-2.5,"title":null}},
  "y":{"field":"y","type":"quantitative","axis":{"orient":"left","values":[0.002,0.003,0.004,0.005,0.006,0.007,0.008,0.009,0.02,0.03,0.04,0.05,0.06,0.07,0.08,0.09,0.2],"labels":false,"domain":false,"tickSize":4,"title":null}}
 }}
],
"resolve":{"axis":{"x":"independent","y":"independent"}},
"config":{
 "view":{"stroke":null},
 "axis":{"grid":false,"domainColor":"#000","tickColor":"#000","labelColor":"#000","titleColor":"#000","domainWidth":1,"tickWidth":1,
         "labelFont":"Liberation Sans Narrow, DejaVu Sans Condensed, sans-serif","labelFontSize":15,
         "titleFont":"Liberation Sans, Arial, sans-serif","titleFontSize":19,"titleFontWeight":"normal"},
 "legend":{"orient":"none","legendX":18,"legendY":241,"strokeColor":"#000","strokeWidth":1,"fillColor":"#fff","padding":5,
           "titleOrient":"left","titlePadding":21,"titleFontSize":12,"titleFont":"Liberation Sans",
           "symbolOffset":0,"symbolStrokeWidth":1,"labelAlign":"left","labelOffset":31,"labelLimit":200,
           "labelFont":"Liberation Sans, Arial, sans-serif","labelFontSize":12.5,"labelColor":"#000","rowPadding":3}
}
}
